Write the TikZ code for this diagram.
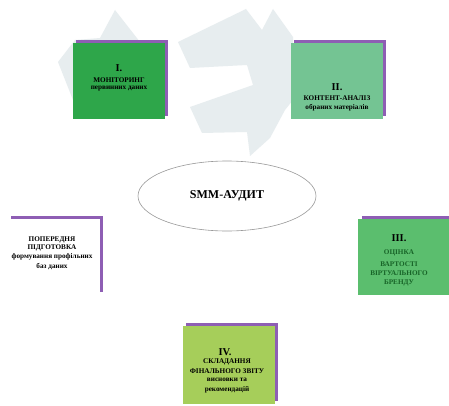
\documentclass[tikz,border=0pt]{standalone}
\usepackage{fontspec}
\setmainfont{Liberation Serif}
\usetikzlibrary{shapes.geometric}
\definecolor{bgarrow}{RGB}{231,237,239}
\definecolor{purp}{RGB}{142,94,180}
\definecolor{gI}{RGB}{46,166,74}
\definecolor{gII}{RGB}{116,196,147}
\definecolor{gIII}{RGB}{91,190,110}
\definecolor{gIV}{RGB}{166,206,90}
\definecolor{dgreen}{RGB}{24,100,40}
\tikzset{
  stagebox/.style={minimum width=92pt, minimum height=76pt, inner sep=0pt, anchor=north west},
  shadowbox/.style={fill=purp, minimum width=92pt, minimum height=76pt, inner sep=0pt, anchor=north west},
  stagetext/.style={align=center, font=\bfseries, inner sep=0pt},
  big/.style={font=\fontsize{10.5}{11}\selectfont\bfseries},
  mid/.style={font=\fontsize{7.2}{8}\selectfont\bfseries},
}
\begin{document}
\begin{tikzpicture}[x=1pt,y=-1pt]
\useasboundingbox (0,0) rectangle (449,406);
\fill[white] (0,0) rectangle (449,406);
% background arrows
\fill[bgarrow] (58,62) -- (75,40) -- (100,38) -- (115,10) -- (140,42) -- (140,100) -- (73,100) -- cycle;
\fill[bgarrow] (178,42) -- (246,9) -- (262,30) -- (273,9) -- (293,37) -- (293,100) -- (285,110)
  -- (270,138) -- (250,156) -- (247,132) -- (202,133) -- (190,107) -- (253,85) -- (247,65) -- (190,68) -- cycle;
% box I
\node[shadowbox] (s1) at (76,40) {};
\node[stagebox, fill=gI] (b1) at (73,43) {};
\node[stagetext, big] (t1a) at (119,68) {I.};
\node[stagetext, mid] (t1b) at (119,80) {МОНІТОРИНГ};
\node[stagetext, mid] (t1c) at (119,89) {первинних даних};
% box II
\node[shadowbox] (s2) at (294,40) {};
\node[stagebox, fill=gII] (b2) at (291,43) {};
\node[stagetext, big] (t2a) at (337,87) {II.};
\node[stagetext, mid] (t2b) at (337,98) {КОНТЕНТ-АНАЛІЗ};
\node[stagetext, mid] (t2c) at (337,108) {обраних матеріалів};
% left box
\node[shadowbox] (s0) at (11,216) {};
\node[stagebox, fill=white] (b0) at (8,219) {};
\node[stagetext, mid] (t0a) at (52,240) {ПОПЕРЕДНЯ};
\node[stagetext, mid] (t0b) at (52,248) {ПІДГОТОВКА};
\node[stagetext, mid] (t0c) at (52,257) {формування профільних};
\node[stagetext, mid] (t0d) at (52,267) {баз даних};
% box III
\node[shadowbox] (s3) at (362,216) {};
\node[stagebox, fill=gIII] (b3) at (358,219) {};
\node[stagetext, big] (t3a) at (399,238) {III.};
\node[stagetext, mid, text=dgreen] (t3b) at (399,253) {ОЦІНКА};
\node[stagetext, mid, text=dgreen] (t3c) at (399,264) {ВАРТОСТІ};
\node[stagetext, mid, text=dgreen] (t3d) at (399,273) {ВІРТУАЛЬНОГО};
\node[stagetext, mid, text=dgreen] (t3e) at (399,283) {БРЕНДУ};
% box IV
\node[shadowbox, minimum height=78pt] (s4) at (186,323) {};
\node[stagebox, fill=gIV, minimum height=78pt] (b4) at (183,326) {};
\node[stagetext, big] (t4a) at (225,352) {IV.};
\node[stagetext, mid] (t4b) at (227,362) {СКЛАДАННЯ};
\node[stagetext, mid] (t4c) at (227,371) {ФІНАЛЬНОГО ЗВІТУ};
\node[stagetext, mid] (t4d) at (227,380) {висновки та};
\node[stagetext, mid] (t4e) at (227,390) {рекомендацій};
% centre ellipse
\node[ellipse, draw=gray!80, line width=0.6pt, fill=white, minimum width=178pt, minimum height=70pt, inner sep=0pt,
  font=\fontsize{12}{13}\selectfont\bfseries] (c) at (227,196) {SMM-АУДИТ};
\end{tikzpicture}
\end{document}
